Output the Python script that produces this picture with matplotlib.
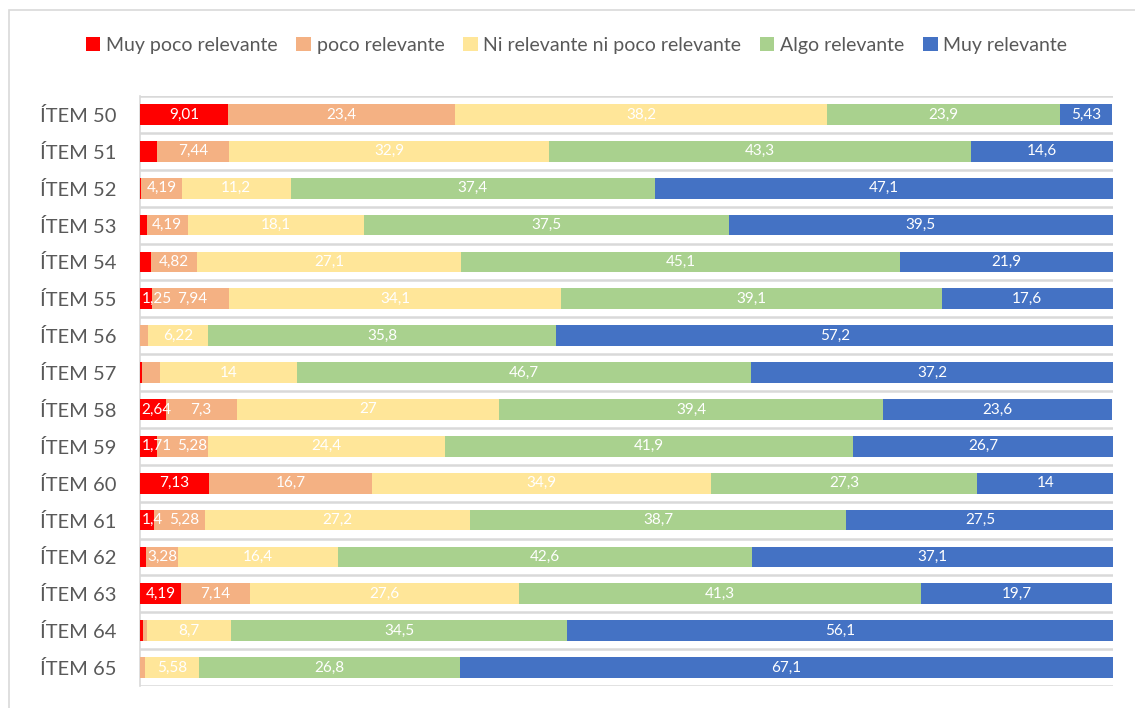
import matplotlib
matplotlib.use("Agg")
import matplotlib.pyplot as plt
from matplotlib.patches import Rectangle
from matplotlib.font_manager import FontProperties

items = ["ÍTEM 50", "ÍTEM 51", "ÍTEM 52", "ÍTEM 53", "ÍTEM 54", "ÍTEM 55", "ÍTEM 56", "ÍTEM 57",
         "ÍTEM 58", "ÍTEM 59", "ÍTEM 60", "ÍTEM 61", "ÍTEM 62", "ÍTEM 63", "ÍTEM 64", "ÍTEM 65"]
series_names = ["Muy poco relevante", "poco relevante", "Ni relevante ni poco relevante",
                "Algo relevante", "Muy relevante"]
muy_poco = [9.01, 1.72, 0.10, 0.70, 1.08, 1.25, 0.00, 0.20, 2.64, 1.71, 7.13, 1.40, 0.62, 4.19, 0.30, 0.00]
poco = [23.4, 7.44, 4.19, 4.19, 4.82, 7.94, 0.78, 1.90, 7.3, 5.28, 16.7, 5.28, 3.28, 7.14, 0.40, 0.52]
ni = [38.2, 32.9, 11.2, 18.1, 27.1, 34.1, 6.22, 14, 27, 24.4, 34.9, 27.2, 16.4, 27.6, 8.7, 5.58]
algo = [23.9, 43.3, 37.4, 37.5, 45.1, 39.1, 35.8, 46.7, 39.4, 41.9, 27.3, 38.7, 42.6, 41.3, 34.5, 26.8]
muy = [5.43, 14.6, 47.1, 39.5, 21.9, 17.6, 57.2, 37.2, 23.6, 26.7, 14, 27.5, 37.1, 19.7, 56.1, 67.1]
# data labels that are not displayed in the reference: (series index, item index)
hidden_labels = {(0, 1), (0, 2), (0, 3), (0, 4), (0, 6), (0, 7), (0, 12), (0, 14), (0, 15),
                 (1, 6), (1, 7), (1, 14), (1, 15)}

colors = ["#FF0000", "#F4B183", "#FFE699", "#A9D18E", "#4472C4"]
all_series = [muy_poco, poco, ni, algo, muy]

W, H = 1135, 708
plt.rcParams['font.family'] = ['Lato', 'DejaVu Sans']
fig = plt.figure(figsize=(W / 100, H / 100), dpi=100)

# chart border (cut off at right and bottom)
fig.patches.append(Rectangle((9 / W, -0.1), 1.2, 1.1 - 10 / H, transform=fig.transFigure,
                             fill=False, edgecolor="#d9d9d9", linewidth=1.2))

ax = fig.add_axes([140 / W, 1 - 686 / H, (1113 - 140) / W, (686 - 96) / H])
ypos = list(range(len(items)))
left = [0.0] * len(items)
handles = []
row_labels = {i: [] for i in ypos}
for si, (name, vals, col) in enumerate(zip(series_names, all_series, colors)):
    bars = ax.barh(ypos, vals, left=left, height=0.56, color=col, label=name, zorder=3)
    handles.append(bars)
    for ii, (b, v) in enumerate(zip(bars, vals)):
        if (si, ii) in hidden_labels:
            continue
        cx = b.get_x() + b.get_width() / 2
        t = ax.text(cx, ii, f"{v:g}".replace(".", ","), ha="center", va="center",
                    color="white", fontsize=11, zorder=4)
        row_labels[ii].append(t)
    left = [l + v for l, v in zip(left, vals)]

ax.set_xlim(0, 100)
ax.set_ylim(len(items) - 0.5, -0.5)
for k in range(len(items) + 1):
    ax.axhline(k - 0.5, color="#d9d9d9", linewidth=1.8, zorder=1)
ax.set_yticks(ypos)
ax.set_yticklabels(items)
for lbl in ax.get_yticklabels():
    lbl.set_fontproperties(FontProperties(family=["Lato", "DejaVu Sans"], size=14.5))
    lbl.set_color("#595959")
ax.tick_params(axis="y", length=0, pad=17)
ax.set_xticks([])
for s in ["top", "right", "bottom"]:
    ax.spines[s].set_visible(False)
ax.spines["left"].set_color("#d9d9d9")
ax.spines["left"].set_linewidth(1.2)

leg = fig.legend(handles=handles, labels=series_names, loc="center", bbox_to_anchor=(0.508, 1 - 45 / H),
                 ncol=5, frameon=False, fontsize=14, handlelength=0.75, handleheight=0.75,
                 handletextpad=0.3, columnspacing=0.95, labelcolor="#595959")

# keep data labels inside the plot area and apart from each other (as the reference does)
fig.canvas.draw()
renderer = fig.canvas.get_renderer()
inv = ax.transData.inverted()
gap = 6 / 9.73  # ~6 px in data units
for ii in ypos:
    prev_right = 0.15 - gap
    for t in row_labels[ii]:
        bb = t.get_window_extent(renderer)
        x0 = inv.transform((bb.x0, bb.y0))[0]
        x1 = inv.transform((bb.x1, bb.y0))[0]
        need = prev_right + gap
        if x0 < need:
            shift = need - x0
            t.set_x(t.get_position()[0] + shift)
            x1 += shift
        prev_right = x1

fig.savefig("out.png", dpi=100)
